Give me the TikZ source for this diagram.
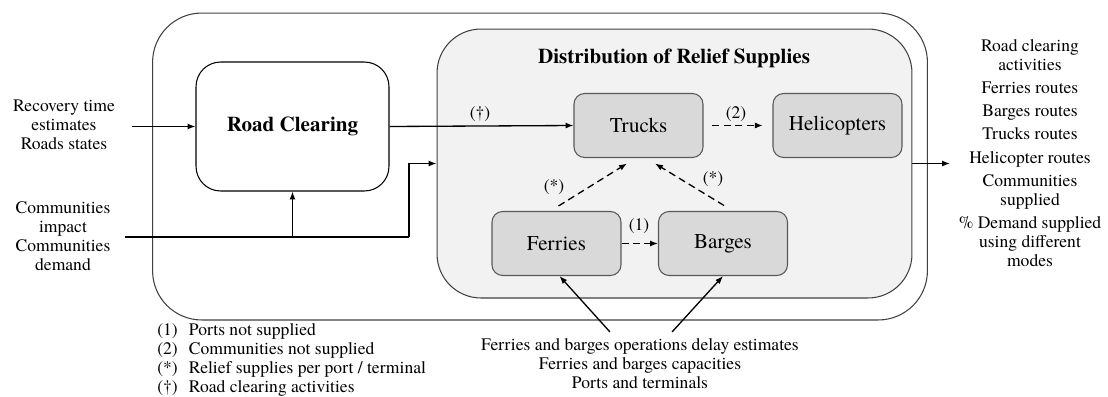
\documentclass[tikz,border=0pt]{standalone}
\usepackage{fontspec}
\setmainfont{texgyretermes}[Extension=.otf, UprightFont=*-regular, BoldFont=*-bold, ItalicFont=*-italic, BoldItalicFont=*-bolditalic]
\usetikzlibrary{arrows.meta,calc}
\definecolor{innerfill}{HTML}{F2F2F2}
\definecolor{boxfill}{HTML}{D9D9D9}
\definecolor{boxdraw}{HTML}{595959}
\definecolor{outerdraw}{HTML}{404040}
\begin{document}
\begin{tikzpicture}[x=0.02cm,y=-0.02cm,
  font=\fontsize{10}{10.8}\selectfont,
  outerbox/.style={draw=outerdraw, line width=0.6pt, rounded corners=28pt, minimum width=15.5cm, minimum height=6.14cm, inner sep=0pt},
  innerbox/.style={draw=outerdraw, fill=innerfill, line width=0.6pt, rounded corners=25pt, minimum width=9.5cm, minimum height=5.38cm, inner sep=0pt},
  roadbox/.style={draw=black, fill=white, line width=0.6pt, rounded corners=14pt, minimum width=3.86cm, minimum height=2.58cm, inner sep=0pt, font=\fontsize{12}{14}\selectfont\bfseries},
  modebox/.style={draw=boxdraw, fill=boxfill, line width=0.6pt, rounded corners=6pt, minimum width=2.58cm, minimum height=1.28cm, inner sep=0pt, font=\fontsize{12}{14}\selectfont},
  arr/.style={line width=0.75pt, -{Latex[length=4.5pt,width=3.4pt]}},
  darr/.style={line width=0.75pt, dash pattern=on 4pt off 2.5pt, -{Latex[length=4.5pt,width=3.4pt]}},
  plain/.style={line width=0.75pt},
  lbl/.style={inner sep=0pt},
  legend/.style={anchor=west, inner sep=0pt, text height=7pt, text depth=2pt},
  sidetext/.style={align=center, inner sep=0pt}
]
\useasboundingbox (0,0) rectangle (1108,396);

% containers
\node[outerbox] (outer) at (540,166.5) {};
\node[innerbox] (inner) at (674.5,163.5) {};
\node[lbl, font=\fontsize{12}{14}\selectfont\bfseries] (title) at (674,58) {Distribution of Relief Supplies};

% boxes
\node[roadbox] (road) at (292.5,126.5) {Road Clearing};
\node[modebox] (trucks) at (638.5,125.5) {Trucks};
\node[modebox] (heli) at (837.5,125.5) {Helicopters};
\node[modebox] (ferries) at (556.5,243.5) {Ferries};
\node[modebox] (barges) at (723,243.5) {Barges};

% side texts
\node[sidetext] (inA) at (64,125) {Recovery time\\estimates\\Roads states};
\node[sidetext] (inB) at (63,236.5) {Communities\\impact\\Communities\\demand};
\node[sidetext] (bottom) at (640,364) {Ferries and barges operations delay estimates\\Ferries and barges capacities\\Ports and terminals};
\node[sidetext] (outtext) at (1030,153) {Road clearing\\activities\\[2.4pt]Ferries routes\\[2.4pt]Barges routes\\[2.4pt]Trucks routes\\[2.4pt]Helicopter routes\\[2.4pt]Communities\\supplied\\[2.4pt]\% Demand supplied\\using different\\modes};

% legend
\node[legend] (leg1) at (157,331) {\makebox[18pt][l]{(1)}Ports not supplied};
\node[legend] (leg2) at (157,350) {\makebox[18pt][l]{(2)}Communities not supplied};
\node[legend] (leg3) at (157,369) {\makebox[18pt][l]{(*)}Relief supplies per port / terminal};
\node[legend] (leg4) at (157,388) {\makebox[18pt][l]{(†)}Road clearing activities};

% free ends
\coordinate (inAs) at (132,126.5);
\coordinate (inBs) at (125,237);
\coordinate (j1) at (292.5,237);
\coordinate (j2) at (409,237);
\coordinate (outE) at (950,163.5);
\coordinate (b1) at (610,332);
\coordinate (b2) at (672,332);

% connectors
\draw[arr] (inAs) -- (road.west);
\draw[plain] (inBs) -- (j2);
\draw[arr] (j1) -- (road.south);
\draw[arr] (j2) |- (inner.west);
\draw[arr] (road.east) -- (trucks.west);
\node[lbl] (dag) at (480,114) {(†)};
\draw[darr, shorten <=5pt, shorten >=5.5pt] (trucks.east) -- (heli.west);
\node[lbl] (l2) at (736,114) {(2)};
\draw[darr] (ferries.east) -- (barges.west);
\node[lbl] (l1) at (639,226) {(1)};
\draw[darr] ($(ferries.north)+(2,-5)$) -- ($(trucks.south)+(-11.5,5.5)$);
\node[lbl] (s1) at (554,187) {(*)};
\draw[darr] ($(barges.north)+(1,-5.5)$) -- ($(trucks.south)+(16.5,5.5)$);
\node[lbl] (s2) at (713,179) {(*)};
\draw[arr] (b1) -- ($(ferries.south)+(3,0)$);
\draw[arr] (b2) -- (barges.south);
\draw[arr] (inner.east) -- (outE);
\end{tikzpicture}
\end{document}
